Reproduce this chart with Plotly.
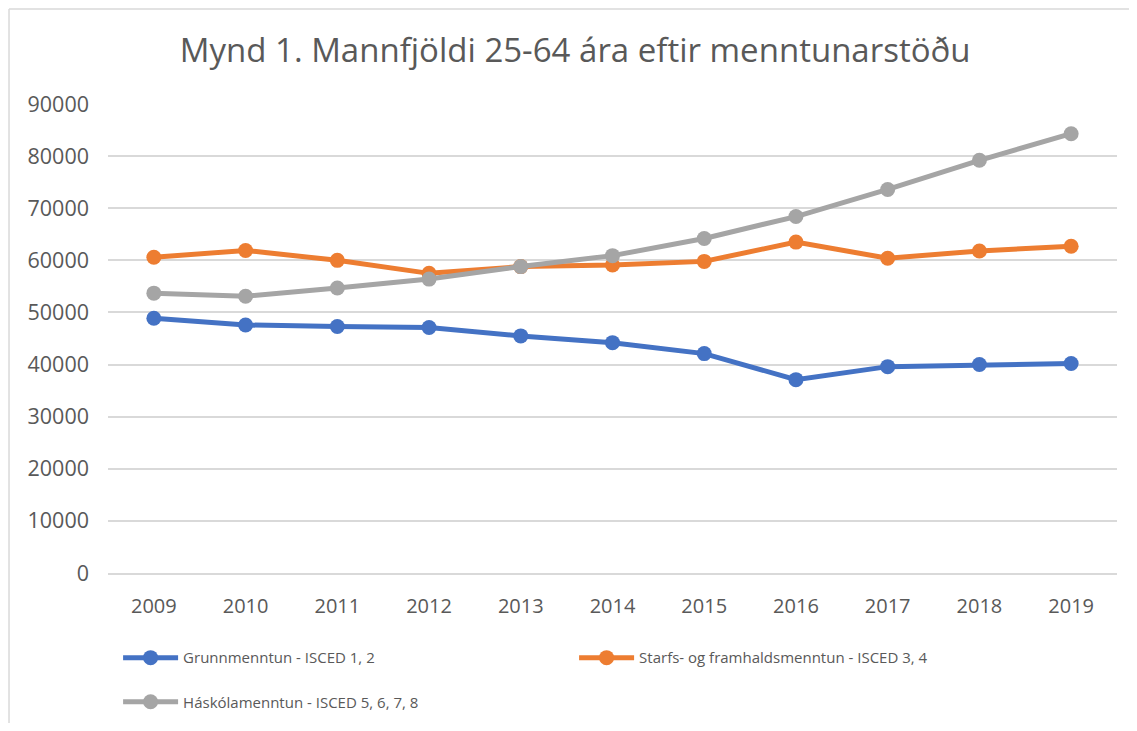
import plotly.graph_objects as go

years = ["2009", "2010", "2011", "2012", "2013", "2014", "2015", "2016", "2017", "2018", "2019"]
grunn = [48900, 47600, 47300, 47100, 45500, 44200, 42100, 37100, 39600, 40000, 40200]
starfs = [60600, 61900, 60000, 57500, 58800, 59100, 59800, 63500, 60400, 61800, 62700]
haskola = [53700, 53100, 54700, 56400, 58800, 60900, 64200, 68400, 73600, 79200, 84300]

names = ["Grunnmenntun - ISCED 1, 2",
         "Starfs- og framhaldsmenntun - ISCED 3, 4",
         "Háskólamenntun - ISCED 5, 6, 7, 8"]
colors = ["#4472C4", "#ED7D31", "#A5A5A5"]
series = [grunn, starfs, haskola]
legends = ["legend", "legend", "legend2"]

fig = go.Figure()
for nm, col, vals, lg in zip(names, colors, series, legends):
    fig.add_trace(go.Scatter(
        x=years, y=vals, name=nm, mode="lines+markers",
        line=dict(color=col, width=5),
        marker=dict(color=col, size=15),
        legend=lg,
    ))

font_family = "Open Sans, Noto Sans, sans-serif"
leg_common = dict(orientation="h", xanchor="left", yanchor="middle",
                  font=dict(size=15, color="#595959"), itemwidth=55,
                  bgcolor="rgba(0,0,0,0)")
fig.update_layout(
    width=1121, height=715,
    margin=dict(l=100, r=12, t=96, b=150, autoexpand=False),
    paper_bgcolor="white", plot_bgcolor="white",
    title=dict(text="Mynd 1. Mannfjöldi 25-64 ára eftir menntunarstöðu",
               x=0.506, xanchor="center", y=0.94, yanchor="middle",
               font=dict(family=font_family, size=33, color="#595959")),
    font=dict(family=font_family, color="#595959", size=20),
    showlegend=True,
    legend=dict(x=0.01, y=-0.181, entrywidth=386, entrywidthmode="pixels", **leg_common),
    legend2=dict(x=0.01, y=-0.275, **leg_common),
    xaxis=dict(type="category", range=[-0.5, 10.5], showgrid=False, showline=True,
               automargin=False, linecolor="#D9D9D9", linewidth=1.5, ticks="",
               tickfont=dict(size=20, color="#595959"), ticklabelstandoff=14),
    yaxis=dict(range=[0, 90000], dtick=10000, showgrid=True, automargin=False,
               gridcolor="#D9D9D9", gridwidth=1.5, zeroline=False,
               showline=False, ticks="", tickformat="d",
               tickfont=dict(size=21.5, color="#595959"), ticklabelstandoff=18),
)
# chart-area border (top and left edges visible in the reference)
fig.add_shape(type="line", xref="paper", yref="paper",
              x0=-0.0981, x1=1.05, y0=1.2026, y1=1.2026,
              line=dict(color="#D9D9D9", width=1.5), layer="below")
fig.add_shape(type="line", xref="paper", yref="paper",
              x0=-0.0981, x1=-0.0981, y0=-0.5, y1=1.2026,
              line=dict(color="#D9D9D9", width=1.5), layer="below")

fig.write_html("out.html")
